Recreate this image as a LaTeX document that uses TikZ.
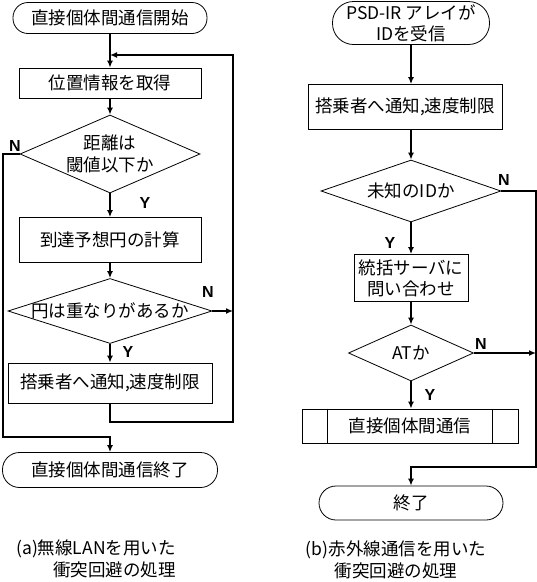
\documentclass[tikz,border=0pt]{standalone}
\usepackage{fontspec}
\setmainfont{Noto Sans CJK JP}
\newfontfamily\ynfont{Liberation Sans}
\usetikzlibrary{positioning,arrows.meta,calc,shapes.geometric}
\tikzset{
  term/.style ={draw, line width=0.8pt, align=center, inner sep=0pt,
                font=\fontsize{17.5}{21}\selectfont},
  proc/.style ={draw, line width=0.8pt, align=center, inner sep=0pt,
                font=\fontsize{17.5}{21}\selectfont},
  dia/.style  ={draw, line width=0.8pt, diamond, inner sep=0pt},
  dtxt/.style ={align=center, inner sep=0pt,
                font=\fontsize{17.5}{22}\selectfont},
  ar/.style   ={-{Latex[length=7pt,width=6pt]}, line width=2pt},
  yn/.style   ={font=\ynfont\bfseries\fontsize{16}{16}\selectfont,
                inner sep=0pt},
  captxt/.style={inner sep=0pt, font=\fontsize{17.5}{22.5}\selectfont}
}
\begin{document}
\begin{tikzpicture}[x=1pt, y=-1pt]
\useasboundingbox (0,0) rectangle (537,582);
% (a)
\node[term, minimum width=194pt, minimum height=31pt, rounded corners=15pt]
  (t1) at (110,18) {直接個体間通信開始};
\node[proc, minimum width=182pt, minimum height=30pt] (b1) at (110,83)
  {位置情報を取得};
\node[dia, minimum width=180pt, minimum height=78pt] (d1) at (110,154) {};
\node[dtxt] (d1t) at (d1) {距離は\\閾値以下か};
\node[proc, minimum width=182pt, minimum height=45pt] (b2) at (110,240)
  {到達予想円の計算};
\node[dia, minimum width=204pt, minimum height=65pt] (d2) at (110,311) {};
\node[dtxt] (d2t) at (d2) {円は重なりがあるか};
\node[proc, minimum width=204pt, minimum height=40pt] (b3) at (110,383)
  {搭乗者へ通知,速度制限};
\node[term, minimum width=215pt, minimum height=35pt, rounded corners=17pt]
  (t2) at (110,470) {直接個体間通信終了};

\coordinate (lt) at (110,55);
\coordinate (lp) at (233,422);
\coordinate (nl) at (3,437);

\foreach \x/\y in {t1/b1,b1/d1,d1/b2,b2/d2,d2/b3} \draw[ar] (\x) -- (\y);
\draw[ar] (b3.south) |- (lp) |- (lt);
\draw[ar] (d2.east) -- (d2.east -| lp);
\draw[ar] (d1.west) -| (nl) -| (t2.north);

\node[yn] (n1) at (15,146) {N};
\node[yn] (y1) at (145,203) {Y};
\node[yn] (n2) at (208,292) {N};
\node[yn] (y2) at (128,352) {Y};

\node[captxt, align=right, anchor=east] (capa) at (176,559)
  {(a)無線LANを用いた\\衝突回避の処理};

% (b)
\node[term, minimum width=157pt, minimum height=43pt, rounded corners=21pt]
  (t3) at (411,23) {PSD-IR アレイが\\IDを受信};
\node[proc, minimum width=194pt, minimum height=45pt] (b4) at (405,107)
  {搭乗者へ通知,速度制限};
\node[dia, minimum width=180pt, minimum height=62pt] (d3) at (411,191) {};
\node[dtxt] (d3t) at (d3) {未知のIDか};
\node[proc, minimum width=114pt, minimum height=47pt] (b5) at (411,278)
  {統括サーバに\\問い合わせ};
\node[dia, minimum width=125pt, minimum height=56pt] (d4) at (411,353) {};
\node[dtxt] (d4t) at (d4) {ATか};
\node[proc, minimum width=216pt, minimum height=34pt] (p1) at (410,426)
  {直接個体間通信};
\draw[line width=0.8pt] ($(p1.north west)+(26,0)$) -- ($(p1.south west)+(26,0)$)
  ($(p1.north east)+(-26,0)$) -- ($(p1.south east)+(-26,0)$);
\node[term, minimum width=184pt, minimum height=34pt, rounded corners=17pt]
  (t4) at (411,503) {終了};

\coordinate (rr) at (536,467);

\draw[ar] (t3) -- (t3 |- b4.north);
\draw[ar] (d3 |- b4.south) -- (d3);
\foreach \x/\y in {d3/b5,b5/d4} \draw[ar] (\x) -- (\y);
\draw[ar] (d4) -- (d4 |- p1.north);
\draw[ar] (d3.east) -| (rr) -| (t4.north);
\draw[ar] (d4.east) -- (d4.east -| rr);

\node[yn] (n3) at (504,180) {N};
\node[yn] (y3) at (390,243) {Y};
\node[yn] (n4) at (481,344) {N};
\node[yn] (y4) at (430,395) {Y};

\node[captxt, align=center] (capb) at (396,560)
  {(b)赤外線通信を用いた\\衝突回避の処理};
\end{tikzpicture}
\end{document}
